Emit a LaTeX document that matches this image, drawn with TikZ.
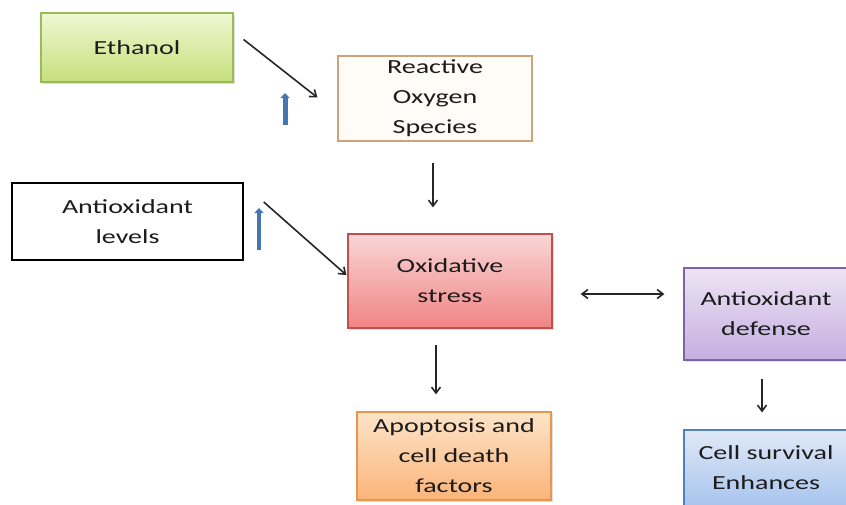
\documentclass[tikz,border=0pt]{standalone}
\usepackage{fontspec}
\usetikzlibrary{arrows.meta,shadows}
\newfontfamily\boxfont[FakeStretch=1.4]{Carlito}

\definecolor{textgray}{HTML}{1C1C1C}
\definecolor{ethtop}{HTML}{F0F7D2}
\definecolor{ethbot}{HTML}{C6E07C}
\definecolor{ethline}{HTML}{9BBB59}
\definecolor{rosline}{HTML}{CFA27C}
\definecolor{oxtop}{HTML}{FAD6D6}
\definecolor{oxbot}{HTML}{F08484}
\definecolor{oxline}{HTML}{C0504D}
\definecolor{deftop}{HTML}{EEE4F4}
\definecolor{defbot}{HTML}{C4AEE0}
\definecolor{defline}{HTML}{8064A2}
\definecolor{aptop}{HTML}{FDE4C8}
\definecolor{apbot}{HTML}{FBB47A}
\definecolor{apline}{HTML}{E8964E}
\definecolor{celltop}{HTML}{E0E9F7}
\definecolor{cellbot}{HTML}{A8C4EE}
\definecolor{cellline}{HTML}{4F81BD}
\definecolor{upblue}{HTML}{4576B0}

\tikzset{
  box/.style={draw, line width=1.2pt, inner sep=0pt, align=center, text=textgray,
    font=\boxfont\fontsize{20}{30}\selectfont},
  shade box/.style 2 args={box, top color=#1, bottom color=#2,
    drop shadow={opacity=0.25, shadow xshift=1.5pt, shadow yshift=-2pt}},
  barb/.tip={Straight Barb[length=6pt,width=9pt]},
  conn/.style={draw=black!85, line width=1.6pt, -barb},
  upmark/.style={draw=upblue, line width=#1, -{Triangle[length=5pt,width=9pt]}}
}

\begin{document}
\begin{tikzpicture}[x=1pt, y=-1pt]
            \useasboundingbox (0,0) rectangle (846,504);

            \node[shade box={ethtop}{ethbot}, draw=ethline, minimum width=192pt, minimum height=69pt] (ethanol) at (137,47.5) {Ethanol};
            \node[box, draw=rosline, fill=orange!3, minimum width=194pt, minimum height=85pt] (ros) at (435,98.5) {Reactive\\Oxygen\\Species};
            \node[box, draw=black, line width=1.5pt, minimum width=231pt, minimum height=77pt] (antilev) at (127.5,221.5) {Antioxidant\\levels};
            \node[shade box={oxtop}{oxbot}, draw=oxline, minimum width=204pt, minimum height=94pt] (oxid) at (450,281) {Oxidative\\stress};
            \node[shade box={deftop}{defbot}, draw=defline, minimum width=164pt, minimum height=92pt] (defense) at (766,314) {Antioxidant\\defense};
            \node[shade box={aptop}{apbot}, draw=apline, minimum width=194pt, minimum height=88pt] (apop) at (454,456) {Apoptosis and\\cell death\\factors};
            \node[shade box={celltop}{cellbot}, draw=cellline, minimum width=164pt, minimum height=76pt] (cell) at (766,468) {Cell survival\\Enhances};

            \draw[conn] ([shift={(10,-8)}]ethanol.east) -- ([shift={(-20,-1)}]ros.west);
            \draw[conn] ([shift={(20,-19.5)}]antilev.east) -- ([shift={(-1,-6)}]oxid.west);
            \draw[conn] ([shift={(-2,21)}]ros.south) -- ([shift={(-2,-26)}]ros.south |- oxid.north);
            \draw[conn] ([shift={(-14,16)}]oxid.south) -- ([shift={(-14,-17)}]oxid.south |- apop.north);
            \draw[conn, barb-barb] ([shift={(28,13)}]oxid.east) -- ([shift={(-19,-20)}]defense.west);
            \draw[conn] ([shift={(-4,18)}]defense.south) -- ([shift={(-4,-17)}]cell.north);

            \coordinate (rosup) at (285,125);
            \coordinate (levup) at (259,250);
            \draw[upmark=5pt] (rosup) -- ++(0,-32);
            \draw[upmark=3.5pt] (levup) -- ++(0,-42);
        \end{tikzpicture}
\end{document}
